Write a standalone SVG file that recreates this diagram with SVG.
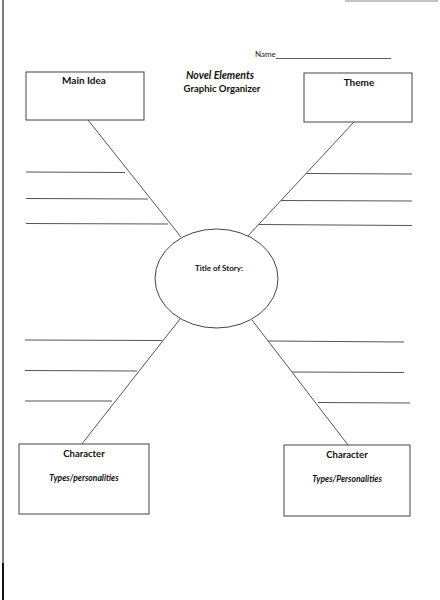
<svg xmlns="http://www.w3.org/2000/svg" width="440" height="600" viewBox="0 0 440 600">
<style>
.box{fill:#fff;stroke:#444;stroke-width:1}
.ln{stroke:#555;stroke-width:1;fill:none}
.t{font-family:Lato,"Liberation Sans",sans-serif;font-weight:bold;fill:#111;text-anchor:middle}
.i{font-style:italic}
</style>
<rect width="440" height="600" fill="#fff"/>
<line x1="3" y1="0" x2="3" y2="600" stroke="#555" stroke-width="1.5"/>
<line x1="3" y1="563" x2="3" y2="600" stroke="#111" stroke-width="2"/>
<line x1="345" y1="1" x2="438" y2="1" stroke="#888" stroke-width="1"/>
<text x="255" y="57" font-family="Lato,'Liberation Sans',sans-serif" font-size="8" fill="#222">Name</text>
<line x1="276" y1="58.5" x2="391" y2="58.5" stroke="#333" stroke-width="0.8"/>
<text class="t i" x="220" y="79" font-size="10.5">Novel Elements</text>
<text class="t" x="222" y="91.5" font-size="9.5">Graphic Organizer</text>
<g id="connectors">
<line class="ln" x1="88" y1="120" x2="181" y2="237"/>
<line class="ln" x1="354" y1="122" x2="247" y2="237"/>
<line class="ln" x1="180" y1="319" x2="81" y2="445"/>
<line class="ln" x1="252" y1="320" x2="348" y2="445"/>
<line class="ln" x1="26" y1="172" x2="125" y2="172.5"/>
<line class="ln" x1="26" y1="198.5" x2="148" y2="199"/>
<line class="ln" x1="26" y1="223.5" x2="168" y2="224"/>
<line class="ln" x1="306" y1="173.5" x2="412" y2="174"/>
<line class="ln" x1="281" y1="200.5" x2="412" y2="201"/>
<line class="ln" x1="259" y1="224.5" x2="412" y2="225.5"/>
<line class="ln" x1="25" y1="340" x2="162" y2="340.5"/>
<line class="ln" x1="25" y1="370.5" x2="137" y2="371"/>
<line class="ln" x1="25" y1="401" x2="112" y2="401"/>
<line class="ln" x1="268" y1="341" x2="404" y2="342"/>
<line class="ln" x1="292" y1="372" x2="404" y2="372.5"/>
<line class="ln" x1="318" y1="402.5" x2="410" y2="403"/>
</g>
<g id="main-idea">
<rect class="box" x="26" y="72" width="118" height="48"/>
<text class="t" x="84" y="84" font-size="10">Main Idea</text>
</g>
<g id="theme">
<rect class="box" x="304" y="73" width="108" height="49"/>
<text class="t" x="359" y="86" font-size="10">Theme</text>
</g>
<g id="title">
<ellipse class="box" cx="216.5" cy="278.5" rx="61.5" ry="49.5"/>
<text class="t" x="219" y="271" font-size="8">Title of Story:</text>
</g>
<g id="character-left">
<rect class="box" x="19" y="444" width="130" height="70"/>
<text class="t" x="84" y="457" font-size="9.5">Character</text>
<text class="t i" x="84" y="481" font-size="8.5">Types/personalities</text>
</g>
<g id="character-right">
<rect class="box" x="284" y="445" width="126" height="71"/>
<text class="t" x="347" y="458" font-size="9.5">Character</text>
<text class="t i" x="347" y="482" font-size="8.5">Types/Personalities</text>
</g>
</svg>
